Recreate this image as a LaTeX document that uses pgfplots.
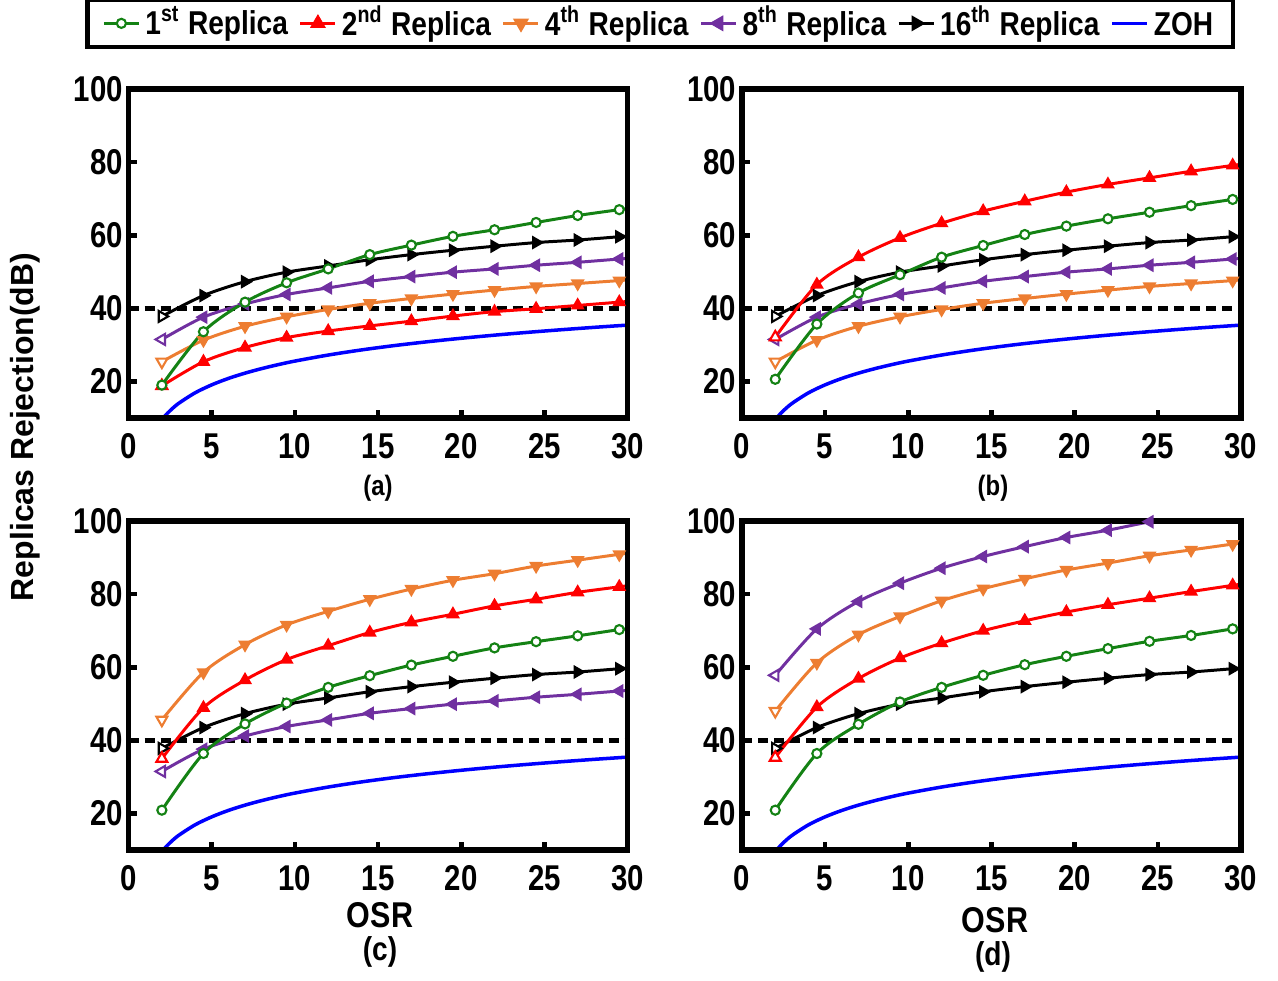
\documentclass[border=0pt]{standalone}
\usepackage{pgfplots}
\pgfplotsset{compat=1.18}
\usepackage{pgfplotstable}
\usepackage{fontspec}
\setmainfont{Liberation Sans}
\newfontfamily\condT[FakeStretch=0.82]{Liberation Sans}
\newfontfamily\condL[FakeStretch=0.85]{Liberation Sans}

\definecolor{cg}{RGB}{20,130,20}
\definecolor{cr}{RGB}{255,0,0}
\definecolor{co}{RGB}{237,125,49}
\definecolor{cp}{RGB}{112,48,160}
\definecolor{cb}{RGB}{0,0,255}

% OSR  1st  2nd  4th  8th  16th
\pgfplotstableread{
x g r o p k
2    19.0 18.8 25.4 31.5 37.8
4.5  33.6 25.4 31.3 37.6 43.5
7    41.7 29.3 35.1 41.2 47.3
9.5  47.0 32.0 37.7 43.8 49.9
12   50.8 33.8 39.7 45.6 51.6
14.5 54.7 35.2 41.4 47.4 53.3
17   57.3 36.5 42.7 48.7 54.7
19.5 59.7 37.9 43.9 49.9 55.9
22   61.5 39.1 45.0 50.8 57.0
24.5 63.5 39.9 46.0 51.8 58.0
27   65.4 40.8 46.8 52.6 58.7
29.5 67.0 41.7 47.6 53.5 59.6
30   67.3 41.9 47.8 53.6 59.8
}\tA
\pgfplotstableread{
x g r o p k
2    20.6 32.1 25.4 31.5 37.8
4.5  35.7 46.5 31.3 37.6 43.5
7    44.2 54.0 35.1 41.2 47.3
9.5  49.2 59.3 37.7 43.8 49.9
12   54.0 63.3 39.7 45.6 51.6
14.5 57.2 66.6 41.4 47.4 53.3
17   60.2 69.3 42.7 48.7 54.7
19.5 62.5 71.8 43.9 49.9 55.9
22   64.5 73.9 45.0 50.8 57.0
24.5 66.3 75.7 46.0 51.8 58.0
27   68.1 77.5 46.8 52.6 58.7
29.5 69.8 79.1 47.6 53.5 59.6
30   70.0 79.4 47.8 53.6 59.8
}\tB
\pgfplotstableread{
x g r o p k
2    20.9 35.0 45.6 31.5 37.8
4.5  36.4 48.9 58.6 37.6 43.5
7    44.5 56.5 66.2 41.2 47.3
9.5  50.2 62.1 71.6 43.8 49.9
12   54.5 65.9 75.3 45.6 51.6
14.5 57.7 69.5 78.6 47.4 53.3
17   60.6 72.3 81.4 48.7 54.7
19.5 63.0 74.5 83.8 49.9 55.9
22   65.3 76.8 85.6 50.8 57.0
24.5 67.0 78.6 87.7 51.8 58.0
27   68.6 80.5 89.3 52.6 58.7
29.5 70.3 82.0 90.9 53.5 59.6
30   70.5 82.3 91.2 53.6 59.8
}\tC
\pgfplotstableread{
x g r o p k
2    20.9 35.3 48.0 57.8 37.8
4.5  36.4 49.1 61.2 70.5 43.5
7    44.4 56.9 68.9 78.0 47.3
9.5  50.5 62.5 73.9 83.0 49.9
12   54.5 66.6 78.2 87.1 51.6
14.5 57.8 70.0 81.5 90.3 53.3
17   60.7 72.7 84.2 93.0 54.7
19.5 63.0 75.1 86.6 95.5 55.9
22   65.1 77.1 88.5 97.5 57.0
24.5 67.1 78.9 90.5 99.8 58.0
27   68.7 80.7 92.1 101.9 58.7
29.5 70.5 82.4 93.7 103.8 59.6
30   70.8 82.7 94.0 104.2 59.8
}\tD
% ZOH
\pgfplotstableread{
x z
2   9.54
2.2 10.63
2.5 12.04
3   13.98
4   16.90
5   19.08
6   20.83
7   22.28
8   23.52
9   24.61
10  25.58
12  27.23
14  28.63
16  29.83
18  30.88
20  31.82
22  32.67
24  33.44
26  34.15
28  34.81
30  35.42
}\tZ

\newcommand\tser[4]{% table, column, colour, rotation
  \addplot[#3, line width=0.85pt, smooth, forget plot] table[x=x, y=#2] {#1};
  \addplot[#3, only marks, mark=triangle*, mark size=1.8pt,
    mark options={rotate=#4, fill=#3, line width=0.5pt}, forget plot,
    skip coords between index={0}{1}, skip coords between index={12}{13}]
    table[x=x, y=#2] {#1};
  \addplot[#3, only marks, mark=triangle*, mark size=1.8pt,
    mark options={rotate=#4, fill=white, line width=0.6pt}, forget plot,
    skip coords between index={1}{13}] table[x=x, y=#2] {#1};
}
\newcommand\gser[1]{%
  \addplot[cg, line width=0.85pt, smooth, forget plot] table[x=x, y=g] {#1};
  \addplot[cg, only marks, mark=*, mark size=1.3pt,
    mark options={fill=white, line width=0.6pt}, forget plot,
    skip coords between index={12}{13}] table[x=x, y=g] {#1};
}
\newcommand\panel[1]{%
  \addplot[black, line width=1.3pt, dash pattern=on 1mm off 0.6mm, forget plot]
    coordinates {(0,40) (30,40)};
  \addplot[cb, line width=1pt, smooth, forget plot] table[x=x, y=z] {\tZ};
  \tser{#1}{k}{black}{-90}
  \tser{#1}{p}{cp}{90}
  \tser{#1}{o}{co}{180}
  \tser{#1}{r}{cr}{0}
  \gser{#1}
}

\pgfplotsset{
  pan/.style={
    scale only axis, width=49.9mm, height=32.9mm, anchor=south west,
    xmin=0, xmax=30, ymin=10, ymax=100,
    xtick={0,5,...,30}, ytick={20,40,60,80,100},
    tick align=inside, xtick pos=bottom, ytick pos=left,
    major tick length=0.8mm,
    axis line style={line width=1.6pt},
    every tick/.style={black, line width=1.3pt},
    tick label style={font=\condT\bfseries\fontsize{10.2}{12}\selectfont},
    /pgf/number format/assume math mode=true,
    yticklabel style={inner sep=0.5mm},
    xticklabel style={inner sep=1.5mm},
    axis on top,
  },
}

\begin{document}
\begin{tikzpicture}
\begin{axis}[pan, at={(12.86mm,-41.8mm)},
  legend columns=6,
  legend cell align=left,
  legend style={at={(1.0656,1.1997)}, anchor=center, draw=black,
    line width=1.2pt, inner xsep=1.5mm, inner ysep=0pt,
    nodes={inner xsep=0.5mm, inner ysep=0.6mm},
    font=\condL\bfseries\fontsize{9.4}{10}\selectfont,
    /tikz/every even column/.append style={column sep=0.6mm},
    /tikz/every odd column/.append style={column sep=0mm}},
  legend image code/.code={\draw[mark repeat=2, mark phase=2]
    plot coordinates {(0mm,0mm) (1.75mm,0mm) (3.5mm,0mm)};},
]
\addlegendimage{cg, line width=0.85pt, mark=*, mark size=1.3pt, mark options={fill=white, line width=0.6pt}}
\addlegendentry{1\textsuperscript{st} Replica}
\addlegendimage{cr, line width=0.85pt, mark=triangle*, mark size=1.8pt, mark options={fill=cr}}
\addlegendentry{2\textsuperscript{nd} Replica}
\addlegendimage{co, line width=0.85pt, mark=triangle*, mark size=1.8pt, mark options={rotate=180, fill=co}}
\addlegendentry{4\textsuperscript{th} Replica}
\addlegendimage{cp, line width=0.85pt, mark=triangle*, mark size=1.8pt, mark options={rotate=90, fill=cp}}
\addlegendentry{8\textsuperscript{th} Replica}
\addlegendimage{black, line width=0.85pt, mark=triangle*, mark size=1.8pt, mark options={rotate=-90, fill=black}}
\addlegendentry{16\textsuperscript{th} Replica}
\addlegendimage{cb, line width=1pt}
\addlegendentry{ZOH\vphantom{\textsuperscript{th}}}
\panel{\tA}
\end{axis}
\begin{axis}[pan, at={(74.2mm,-41.8mm)}]
\panel{\tB}
\end{axis}
\begin{axis}[pan, at={(12.86mm,-85.0mm)}]
\panel{\tC}
\end{axis}
\begin{axis}[pan, at={(74.2mm,-85.0mm)}]
\panel{\tD}
\end{axis}

\node[rotate=90, font=\bfseries\fontsize{9.1}{11}\selectfont] at (2.5mm,-42.7mm) {Replicas Rejection(dB)};
\node[font=\condL\bfseries\fontsize{8}{9}\selectfont] at (37.8mm,-48.8mm) {(a)};
\node[font=\condL\bfseries\fontsize{8}{9}\selectfont] at (99.3mm,-48.8mm) {(b)};
\node[font=\condL\bfseries\fontsize{10.2}{12}\selectfont] at (38.0mm,-91.5mm) {OSR};
\node[font=\condL\bfseries\fontsize{9.4}{11}\selectfont] at (38.0mm,-95.2mm) {(c)};
\node[font=\condL\bfseries\fontsize{10.2}{12}\selectfont] at (99.5mm,-92.0mm) {OSR};
\node[font=\condL\bfseries\fontsize{9.4}{11}\selectfont] at (99.3mm,-95.7mm) {(d)};
\pgfresetboundingbox
\path (0,0) rectangle (127.8mm,-98mm);
\end{tikzpicture}
\end{document}
